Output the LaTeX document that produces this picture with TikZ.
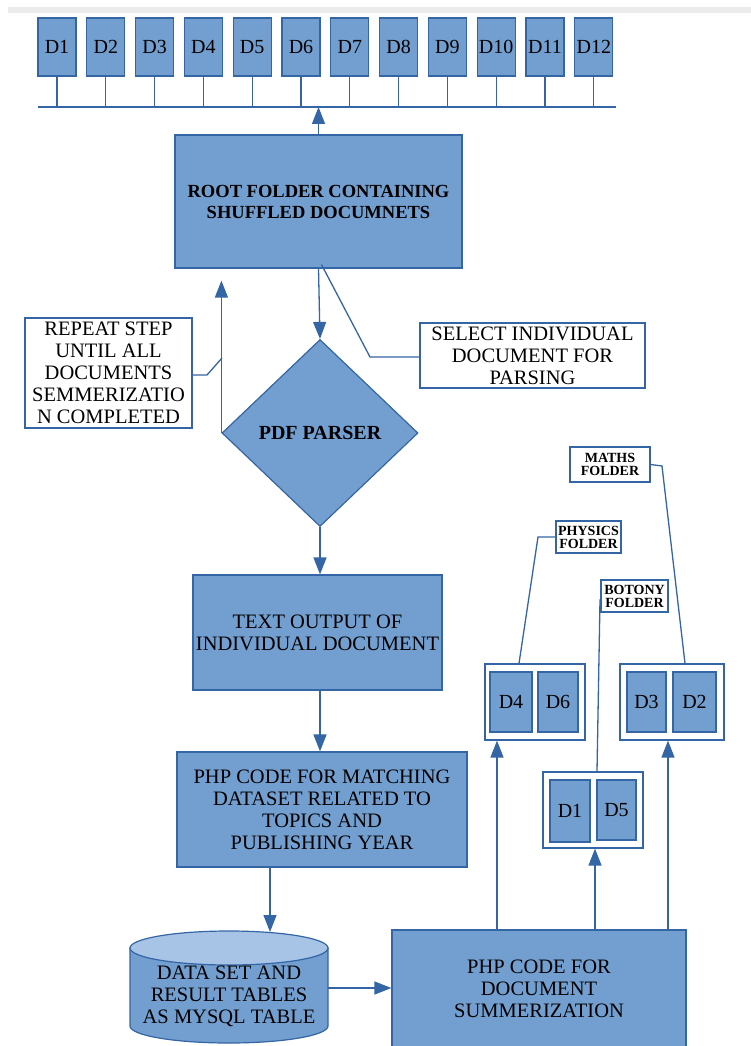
\documentclass[tikz,border=0pt]{standalone}
\usepackage{fontspec}
\setmainfont{Liberation Serif}
\usetikzlibrary{shapes.geometric,arrows.meta,calc}
\definecolor{bfill}{HTML}{729FCF}
\definecolor{bline}{HTML}{3465A4}
\definecolor{ctop}{HTML}{A7C4E6}
\begin{document}
\begin{tikzpicture}[x=1pt,y=-1pt,
  txt/.style={font=\fontsize{20.5}{22}\selectfont, text=black, align=center},
  bbox/.style={draw=bline, fill=bfill, line width=1.2pt, inner sep=0pt, txt},
  wbox/.style={draw=bline, fill=white, line width=1.2pt, inner sep=0pt, txt},
  dbox/.style={bbox, minimum width=38pt, minimum height=58pt, font=\fontsize{20}{22}\selectfont},
  flab/.style={wbox, font=\bfseries\fontsize{14}{13}\selectfont},
  conn/.style={draw=bline, line width=1.3pt},
  arr/.style={conn, -{Triangle[length=17pt,width=13pt]}}]
\useasboundingbox (0,0) rectangle (751,1046);
\fill[black!8] (8,7) rectangle (751,13);
% top documents
\foreach \i in {1,...,12}{
  \node[dbox] (d\i) at ({57+48.8*(\i-1)},47) {D\i};
}
\coordinate (busL) at (38,107);
\coordinate (busR) at (616,107);
\draw[conn] (busL) -- (busR);
\foreach \i in {1,...,12}{
  \draw[conn] (d\i.south) -- (d\i.south |- busL);
}
% root
\node[bbox, minimum width=287pt, minimum height=133pt, font=\bfseries\fontsize{18.5}{21}\selectfont] (root) at (318.5,201.5) {ROOT FOLDER CONTAINING\\SHUFFLED DOCUMNETS};
\draw[arr] (root.north) -- (root.north |- busL);
% diamond
\node[diamond, bbox, minimum width=196pt, minimum height=187pt, font=\bfseries\fontsize{20}{22}\selectfont] (dia) at (320,433) {PDF PARSER};
\draw[arr] (root.south) -- (dia.north);
% select
\node[wbox, minimum width=225pt, minimum height=65pt] (sel) at (532.5,355.5) {SELECT INDIVIDUAL\\DOCUMENT FOR\\PARSING};
\coordinate (selc) at (370,357);
\draw[conn] ($(root.south)+(3,-4)$) -- (selc) -- (sel.west |- selc);
% repeat
\node[wbox, minimum width=167pt, minimum height=110pt] (rep) at (108.5,373) {REPEAT STEP\\UNTIL ALL\\DOCUMENTS\\SEMMERIZATIO\\N COMPLETED};
\coordinate (repa) at (207,375);
\coordinate (repb) at (222,358);
\draw[conn] (rep.east |- repa) -- (repa) -- (repb);
\draw[arr, shorten >=12pt] (dia.west) -- (dia.west |- root.south);
% text output
\node[bbox, minimum width=249pt, minimum height=115pt] (tout) at (317.5,632.5) {TEXT OUTPUT OF\\INDIVIDUAL DOCUMENT};
\draw[arr] (dia.south) -- (dia.south |- tout.north);
% php matching
\node[bbox, minimum width=290pt, minimum height=115pt] (php) at (322,809.5) {PHP CODE FOR MATCHING\\DATASET RELATED TO\\TOPICS AND\\PUBLISHING YEAR};
\draw[arr] (dia.south |- tout.south) -- (dia.south |- php.north);
% cylinder
\draw[draw=bline, fill=bfill, line width=1.2pt] (130,948) -- (130,1026) arc (180:0:99 and 17) -- (328,948) -- cycle;
\draw[draw=bline, fill=ctop, line width=1.2pt] (229,948) ellipse [x radius=99, y radius=17];
\node[txt] (db) at (229,996) {DATA SET AND\\RESULT TABLES\\AS MYSQL TABLE};
\coordinate (dbtop) at (270,932);
\coordinate (dbright) at (328,988);
\draw[arr] (php.south -| dbtop) -- (dbtop);
% summarization
\node[bbox, minimum width=294pt, minimum height=117pt] (summ) at (539,988.5) {PHP CODE FOR\\DOCUMENT\\SUMMERIZATION};
\draw[arr] (dbright) -- (summ.west |- dbright);
% groups
\node[wbox, minimum width=100pt, minimum height=76pt] (g46) at (535,702) {};
\node[dbox, minimum width=42pt, minimum height=60pt] (gd4) at (511,702) {D4};
\node[dbox, minimum width=40pt, minimum height=60pt] (gd6) at (558,702) {D6};
\node[wbox, minimum width=104pt, minimum height=76pt] (g32) at (672,702) {};
\node[dbox, minimum width=39pt, minimum height=60pt] (gd3) at (646.5,702) {D3};
\node[dbox, minimum width=43pt, minimum height=60pt] (gd2) at (694.5,702) {D2};
\node[wbox, minimum width=100pt, minimum height=76pt] (g15) at (593,810) {};
\node[dbox, minimum width=40pt, minimum height=62pt] (gd1) at (570,811) {D1};
\node[dbox, minimum width=39pt, minimum height=60pt] (gd5) at (616.5,810) {D5};
\coordinate (xa) at (497,0);
\coordinate (xb) at (595,0);
\coordinate (xc) at (668,0);
\draw[arr] (summ.north -| xa) -- (g46.south -| xa);
\draw[arr] (summ.north -| xb) -- (g15.south -| xb);
\draw[arr] (summ.north -| xc) -- (g32.south -| xc);
% folder labels
\node[flab, minimum width=65pt, minimum height=32pt] (phy) at (588.5,537) {PHYSICS\\FOLDER};
\node[flab, minimum width=67pt, minimum height=32pt] (bot) at (634.5,596) {BOTONY\\FOLDER};
\node[flab, minimum width=80pt, minimum height=35pt] (mat) at (610,464.5) {MATHS\\FOLDER};
\coordinate (pa) at (519,0);
\coordinate (pb) at (538,537);
\draw[conn] (g46.north -| pa) -- (pb) -- (phy.west);
\coordinate (ba) at (597,0);
\coordinate (bb) at (600,600);
\draw[conn] (g15.north -| ba) -- (bb) -- (bot.west |- bb);
\coordinate (ma) at (662,466);
\coordinate (mb) at (685,0);
\draw[conn] (mat.east) -- (ma) -- (g32.north -| mb);
\end{tikzpicture}
\end{document}
